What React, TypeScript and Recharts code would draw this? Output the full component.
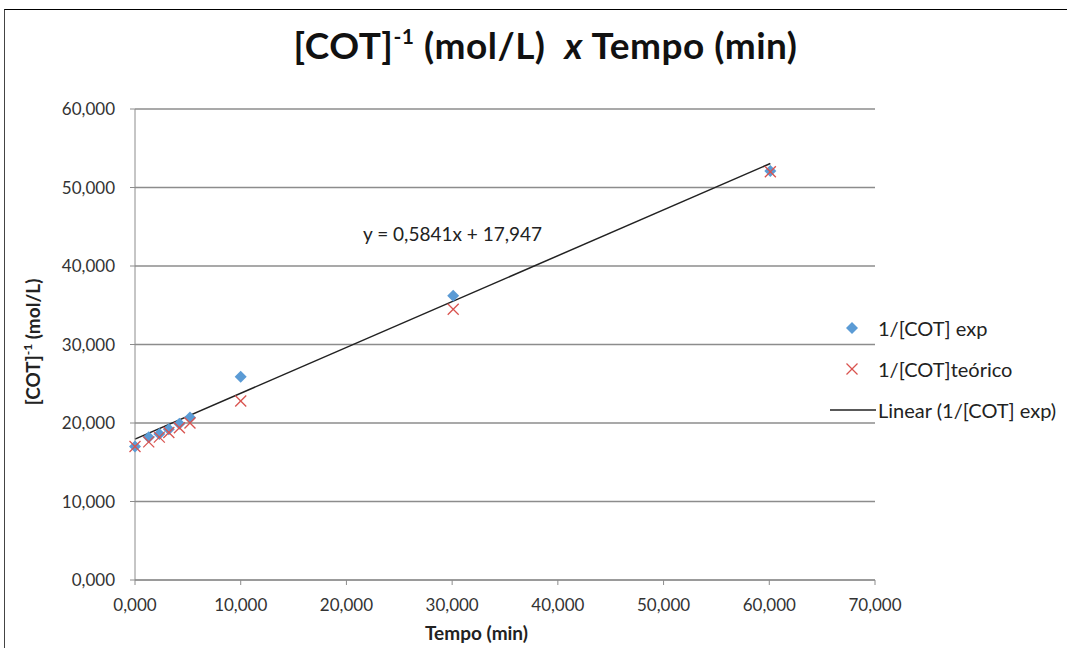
import { ScatterChart, Scatter, XAxis, YAxis, CartesianGrid, ReferenceLine } from 'recharts'

// tempo (min) and 1/[COT] (L/mol)
const tempo = [0, 1.3, 2.3, 3.2, 4.2, 5.2, 10, 30.1, 60.1]
const invCotExp = [17.0, 18.2, 18.6, 19.2, 19.9, 20.7, 25.9, 36.2, 52.1]
const invCotTeorico = [17.0, 17.6, 18.2, 18.8, 19.4, 20.0, 22.8, 34.5, 52.0]
const xTicks = [0, 10, 20, 30, 40, 50, 60, 70]
const yTicks = [0, 10, 20, 30, 40, 50, 60]

// Linear trendline from Excel (shown on the chart)
const slope = 0.5841
const intercept = 17.947

const expData = tempo.map((t, i) => ({ x: t, y: invCotExp[i] }))
const teoData = tempo.map((t, i) => ({ x: t, y: invCotTeorico[i] }))
const tMin = tempo[0]
const tMax = tempo[tempo.length - 1]

const FONT = 'Lato, "Open Sans", sans-serif'
const BLUE = '#5b9bd5'
const RED = '#d9534f'
const GRID = '#8c8c8c'

const fmt = (v: number) => v.toFixed(3).replace('.', ',')

function Diamond({ cx, cy }: { cx?: number; cy?: number }) {
  if (cx == null || cy == null) return <g />
  const r = 6
  return <polygon points={`${cx},${cy - r} ${cx + r},${cy} ${cx},${cy + r} ${cx - r},${cy}`} fill={BLUE} />
}

function Cross({ cx, cy }: { cx?: number; cy?: number }) {
  if (cx == null || cy == null) return <g />
  const r = 5.5
  return (
    <g stroke={RED} strokeWidth={1.3}>
      <line x1={cx - r} y1={cy - r} x2={cx + r} y2={cy + r} />
      <line x1={cx - r} y1={cy + r} x2={cx + r} y2={cy - r} />
    </g>
  )
}

export default function App() {
  const tick = { fill: '#333', fontSize: 17, fontFamily: FONT }
  return (
    <div style={{ position: 'absolute', left: 0, top: 0, width: 1067, height: 648, background: '#fff', overflow: 'hidden', fontFamily: FONT }}>
      <div style={{ position: 'absolute', left: 4, top: 9, right: -2, bottom: -2, borderTop: '1.5px solid #000', borderLeft: '1.5px solid #444' }} />

      <div style={{ position: 'absolute', left: 12, width: 1067, top: 22, textAlign: 'center', fontSize: 37, fontWeight: 700, color: '#111', letterSpacing: 0.5 }}>
        [COT]<sup style={{ fontSize: 21, position: 'relative', top: -2 }}>-1</sup> (mol/L)&nbsp; <i>x</i> Tempo (min)
      </div>

      <ScatterChart width={1067} height={648} margin={{ top: 109, right: 192, bottom: 0, left: 0 }}>
        <CartesianGrid vertical={false} stroke={GRID} strokeWidth={1.3} />
        <XAxis
          type="number"
          dataKey="x"
          domain={[0, 70]}
          ticks={xTicks}
          tickFormatter={fmt}
          height={68}
          tick={tick}
          stroke={GRID}
          tickSize={5}
          tickMargin={14}
          interval={0}
        />
        <YAxis
          type="number"
          dataKey="y"
          domain={[0, 60]}
          ticks={yTicks}
          tickFormatter={fmt}
          width={135}
          tick={tick}
          stroke={GRID}
          tickSize={5}
          tickMargin={15}
          interval={0}
        />
        <Scatter data={expData} shape={<Diamond />} isAnimationActive={false} />
        <Scatter data={teoData} shape={<Cross />} isAnimationActive={false} />
        <ReferenceLine
          segment={[{ x: tMin, y: intercept + slope * tMin }, { x: tMax, y: intercept + slope * tMax }]}
          stroke="#222"
          strokeWidth={1.5}
        />
      </ScatterChart>

      <div style={{ position: 'absolute', left: 363, top: 222, fontSize: 19, color: '#222' }}>
        y = 0,5841x + 17,947
      </div>

      <div style={{ position: 'absolute', left: 32, top: 342, transform: 'translate(-50%, -50%) rotate(-90deg)', whiteSpace: 'nowrap', fontSize: 19, fontWeight: 700, color: '#222' }}>
        [COT]<sup style={{ fontSize: 12 }}>-1</sup> (mol/L)
      </div>

      <div style={{ position: 'absolute', left: 0, width: 953, top: 621, lineHeight: '24px', textAlign: 'center', fontSize: 19, fontWeight: 700, color: '#222' }}>
        Tempo (min)
      </div>

      {/* legend */}
      <div style={{ position: 'absolute', left: 830, top: 307, fontSize: 20, color: '#222' }}>
        <div style={{ display: 'flex', alignItems: 'center', height: 41 }}>
          <svg width={48} height={20}><polygon points="22,4 28,10 22,16 16,10" fill={BLUE} /></svg>
          <span>1/[COT] exp</span>
        </div>
        <div style={{ display: 'flex', alignItems: 'center', height: 41 }}>
          <svg width={48} height={20} stroke={RED} strokeWidth={1.3}>
            <line x1={16.5} y1={4.5} x2={27.5} y2={15.5} />
            <line x1={16.5} y1={15.5} x2={27.5} y2={4.5} />
          </svg>
          <span>1/[COT]teórico</span>
        </div>
        <div style={{ display: 'flex', alignItems: 'center', height: 41 }}>
          <svg width={48} height={20}><line x1={0} y1={10} x2={46} y2={10} stroke="#222" strokeWidth={1.5} /></svg>
          <span>Linear (1/[COT] exp)</span>
        </div>
      </div>
    </div>
  )
}
